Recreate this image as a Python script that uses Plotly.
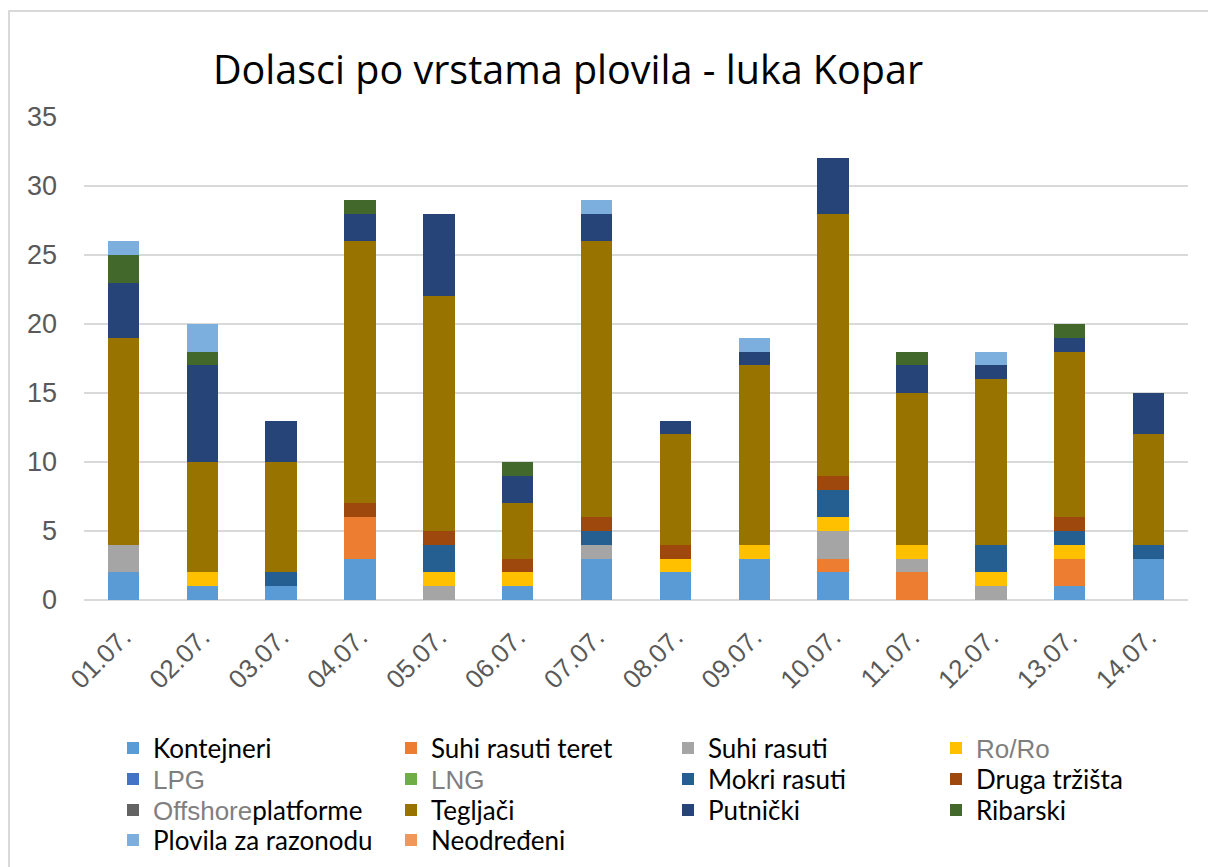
import plotly.graph_objects as go

categories = ["01.07.", "02.07.", "03.07.", "04.07.", "05.07.", "06.07.", "07.07.",
              "08.07.", "09.07.", "10.07.", "11.07.", "12.07.", "13.07.", "14.07."]

kontejneri      = [2, 1, 1, 3, 0, 1, 3, 2, 3, 2, 0, 0, 1, 3]
suhi_teret      = [0, 0, 0, 3, 0, 0, 0, 0, 0, 1, 2, 0, 2, 0]
suhi_rasuti     = [2, 0, 0, 0, 1, 0, 1, 0, 0, 2, 1, 1, 0, 0]
ro_ro           = [0, 1, 0, 0, 1, 1, 0, 1, 1, 1, 1, 1, 1, 0]
lpg             = [0] * 14
lng             = [0] * 14
mokri_rasuti    = [0, 0, 1, 0, 2, 0, 1, 0, 0, 2, 0, 2, 1, 1]
druga_trzista   = [0, 0, 0, 1, 1, 1, 1, 1, 0, 1, 0, 0, 1, 0]
offshore        = [0] * 14
tegljaci        = [15, 8, 8, 19, 17, 4, 20, 8, 13, 19, 11, 12, 12, 8]
putnicki        = [4, 7, 3, 2, 6, 2, 2, 1, 1, 4, 2, 1, 1, 3]
ribarski        = [2, 1, 0, 1, 0, 1, 0, 0, 0, 0, 1, 0, 1, 0]
plovila         = [1, 2, 0, 0, 0, 0, 1, 0, 1, 0, 0, 1, 0, 0]
neodredeni      = [0] * 14

GRAY_SPAN = "<span style='font-family:Liberation Sans;color:#7f7f7f'>{}</span>"

series_names = [
    "Kontejneri", "Suhi rasuti teret", "Suhi rasuti", GRAY_SPAN.format("Ro/Ro"),
    GRAY_SPAN.format("LPG"), GRAY_SPAN.format("LNG"), "Mokri rasuti", "Druga tržišta",
    GRAY_SPAN.format("Offshore") + "platforme", "Tegljači", "Putnički", "Ribarski",
    "Plovila za razonodu", "Neodređeni",
]
series_values = [kontejneri, suhi_teret, suhi_rasuti, ro_ro, lpg, lng, mokri_rasuti,
                 druga_trzista, offshore, tegljaci, putnicki, ribarski, plovila, neodredeni]
series_colors = ["#5B9BD5", "#ED7D31", "#A5A5A5", "#FFC000", "#4472C4", "#70AD47",
                 "#255E91", "#9E480E", "#636363", "#997300", "#264478", "#43682B",
                 "#7CAFDD", "#F1975A"]

# layout geometry (pixels)
L, R, T, B = 84, 20, 117, 267
W, H = 1208, 867
PW, PH = W - L - R, H - T - B

col_sym_x = [127, 405, 682, 950]
row_y = [748, 779, 810, 840]

fig = go.Figure()
layout_legends = {}
for i, (nm, vals, col) in enumerate(zip(series_names, series_values, series_colors)):
    key = "legend" if i == 0 else f"legend{i+1}"
    fig.add_trace(go.Bar(
        x=categories, y=vals, name=nm, marker=dict(color=col, line=dict(width=0)),
        legend=key, showlegend=True,
    ))
    r, c = divmod(i, 4)
    lx = (col_sym_x[c] - 14 - L) / PW
    ly = (H - B - row_y[r]) / PH
    layout_legends[key] = dict(
        x=lx, y=ly, xanchor="left", yanchor="middle",
        bgcolor="rgba(0,0,0,0)", borderwidth=0,
        font=dict(family="Lato", size=26, color="#000000"),
        itemwidth=30, itemclick=False, itemdoubleclick=False,
    )

fig.update_layout(
    width=W, height=H,
    margin=dict(l=L, r=R, t=T, b=B, autoexpand=False),
    barmode="stack",
    bargap=0.6,
    plot_bgcolor="white",
    paper_bgcolor="white",
    title=dict(text="Dolasci po vrstama plovila - luka Kopar",
               x=568 / W, xanchor="center", y=1 - 70 / H, yanchor="middle",
               font=dict(family="Open Sans", size=39.5, color="#000000")),
    xaxis=dict(tickangle=-45, tickfont=dict(family="Liberation Sans", size=26, color="#595959"),
               showgrid=False, showline=False, ticks="", ticklabelstandoff=16,
               automargin=False),
    yaxis=dict(range=[0, 35], dtick=5, showgrid=True, gridcolor="#d9d9d9", gridwidth=1.5,
               zeroline=True, zerolinecolor="#d9d9d9", zerolinewidth=1.5,
               tickfont=dict(family="Liberation Sans", size=27, color="#595959"),
               ticklabelstandoff=26, showline=False, ticks="", automargin=False),
    shapes=[dict(type="rect", xref="paper", yref="paper",
                 x0=(9 - L) / PW, x1=(1230 - L) / PW,
                 y0=(H - B - 900) / PH, y1=(H - B - 11) / PH,
                 line=dict(color="#d9d9d9", width=2), fillcolor="rgba(0,0,0,0)", layer="below")],
    **layout_legends,
)

fig.write_html("out.html", config={"displayModeBar": False},
               post_script="document.body.style.margin='0px';document.body.style.overflow='hidden';")
